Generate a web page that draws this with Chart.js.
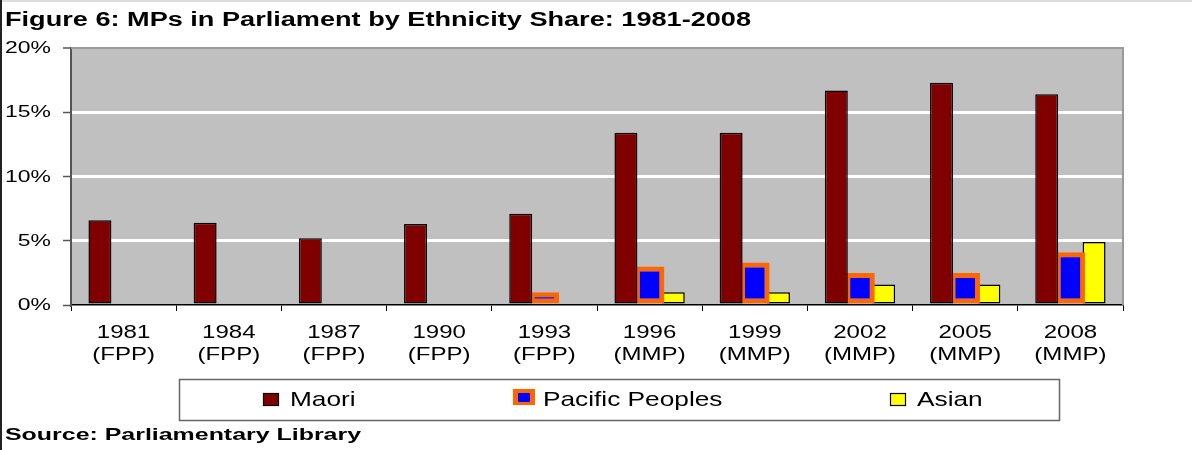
<!DOCTYPE html>
<html>
<head>
<meta charset="utf-8">
<title>MPs in Parliament by Ethnicity Share</title>
<script src="https://cdn.jsdelivr.net/npm/chart.js@4"></script>
<style>
  body { margin: 0; background: #fff; }
  .wrap { position: relative; width: 1192px; height: 450px; }
</style>
</head>
<body>
<div class="wrap"><canvas id="chart1"></canvas></div>
<script>
// data (percent of MPs)
const years = ['1981', '1984', '1987', '1990', '1993', '1996', '1999', '2002', '2005', '2008']
const systems = ['FPP', 'FPP', 'FPP', 'FPP', 'FPP', 'MMP', 'MMP', 'MMP', 'MMP', 'MMP']
const maori = [6.6, 6.4, 5.2, 6.3, 7.1, 13.4, 13.4, 16.7, 17.3, 16.4]
const pacific = [null, null, null, null, 1.0, 3.0, 3.3, 2.5, 2.5, 4.1]
const asian = [null, null, null, null, null, 1.0, 1.0, 1.6, 1.6, 4.9]
const yTicks = [0, 5, 10, 15, 20]

const titleText = 'Figure 6: MPs in Parliament by Ethnicity Share: 1981-2008'
const sourceText = 'Source: Parliamentary Library'
const FONT = '"Liberation Sans", Arial, sans-serif'

const labels = years.map((y, i) => [y, '(' + systems[i] + ')'])

const ctx1 = document.getElementById('chart1')

// the original was rendered with horizontally stretched text,
// so text is drawn with an x scale factor
function wideText(ctx, text, x, y, sx, align) {
    ctx.save()
    ctx.translate(x, y)
    ctx.scale(sx, 1)
    ctx.textAlign = align || 'left'
    ctx.fillText(text, 0, 0)
    ctx.restore()
}

const framePlugin = {
    id: 'frame',
    beforeDraw(chart) {
        const { ctx, chartArea: a } = chart
        ctx.save()
        ctx.fillStyle = '#c0c0c0'
        ctx.fillRect(a.left, a.top, a.right - a.left, a.bottom - a.top)
        ctx.restore()
    },
    beforeDatasetsDraw(chart) {
        const { ctx, chartArea: a } = chart
        ctx.save()
        ctx.strokeStyle = '#9a9a9a'
        ctx.lineWidth = 2
        ctx.beginPath()
        ctx.moveTo(a.left, a.top)
        ctx.lineTo(a.right, a.top)
        ctx.lineTo(a.right, a.bottom)
        ctx.stroke()
        ctx.restore()
    },
    afterDraw(chart) {
        const ctx = chart.ctx
        const xs = chart.scales.x
        const ys = chart.scales.y
        ctx.save()
        ctx.fillStyle = '#dddddd'
        ctx.fillRect(0, 0, 1192, 2)
        ctx.fillStyle = '#222'
        ctx.fillRect(0, 0, 2, 450)

        ctx.fillStyle = '#000'
        ctx.textBaseline = 'alphabetic'

        // title
        ctx.font = 'bold 19.5px ' + FONT
        wideText(ctx, titleText, 5, 26, 746 / ctx.measureText(titleText).width)

        // tick labels, placed by the chart's own scales
        ctx.font = '18.5px ' + FONT
        xs.ticks.forEach((t, i) => {
            const x = xs.getPixelForTick(i)
            const lab = xs.chart.data.labels[i]
            wideText(ctx, lab[0], x, 338, 1.3, 'center')
            wideText(ctx, lab[1], x, 360, 1.3, 'center')
        })
        ctx.font = '17px ' + FONT
        ctx.textBaseline = 'middle'
        ys.ticks.forEach((t) => {
            wideText(ctx, t.value + '%', 51, ys.getPixelForValue(t.value) + 0.5, 1.35, 'right')
        })
        ctx.textBaseline = 'alphabetic'

        // legend
        ctx.fillStyle = '#fff'
        ctx.fillRect(179, 379, 881, 41)
        ctx.strokeStyle = '#666'
        ctx.lineWidth = 1.5
        ctx.strokeRect(179.5, 379.5, 880, 41)
        const pos = [263, 513, 890]
        ctx.font = '21px ' + FONT
        chart.data.datasets.forEach((ds, i) => {
            const x = pos[i]
            if (ds.borderWidth > 2) {
                ctx.fillStyle = ds.borderColor
                ctx.fillRect(x, 389, 22, 16)
                ctx.fillStyle = ds.backgroundColor
                ctx.fillRect(x + 5, 393, 12, 9)
            } else {
                ctx.fillStyle = ds.backgroundColor
                ctx.fillRect(x, 393, 16, 13)
                ctx.strokeStyle = '#000'
                ctx.lineWidth = 1.2
                ctx.strokeRect(x + 0.5, 393.5, 15, 12)
            }
            ctx.fillStyle = '#000'
            wideText(ctx, ds.label, x + (ds.borderWidth > 2 ? 30 : 27), 406, 1.25)
        })

        // source
        ctx.font = 'bold 16.5px ' + FONT
        wideText(ctx, sourceText, 5, 440, 356 / ctx.measureText(sourceText).width)
        ctx.restore()
    },
}

const chart1 = new Chart(ctx1, {
    type: 'bar',
    data: {
        labels: labels,
        datasets: [
            {
                label: 'Maori',
                data: maori,
                backgroundColor: '#800000',
                borderColor: '#000',
                borderWidth: 1.5,
                borderSkipped: false,
                barPercentage: 0.97,
            },
            {
                label: 'Pacific Peoples',
                data: pacific,
                backgroundColor: '#0000ff',
                borderColor: '#ff6600',
                borderWidth: 5,
                borderSkipped: false,
                barPercentage: 1.25,
            },
            {
                label: 'Asian',
                data: asian,
                backgroundColor: '#ffff00',
                borderColor: '#000',
                borderWidth: 1.5,
                borderSkipped: false,
                barPercentage: 0.97,
            },
        ],
    },
    options: {
        responsive: true,
        maintainAspectRatio: false,
        animation: false,
        layout: {
            padding: { top: 48, right: 69, left: 0, bottom: 0 },
        },
        datasets: {
            bar: { categoryPercentage: 0.675 },
        },
        plugins: {
            legend: { display: false },
            tooltip: { enabled: false },
            title: { display: false },
        },
        scales: {
            x: {
                afterFit: (scale) => {
                    scale.height = 145
                },
                grid: {
                    offset: true,
                    drawOnChartArea: false,
                    drawTicks: true,
                    tickLength: 6,
                    tickColor: '#000',
                },
                border: { color: '#000', width: 1.5 },
                ticks: { display: false, autoSkip: false, maxRotation: 0 },
            },
            y: {
                min: 0,
                max: 20,
                afterFit: (scale) => {
                    scale.width = 71
                },
                afterBuildTicks: (scale) => {
                    scale.ticks = yTicks.map((v) => ({ value: v }))
                },
                grid: {
                    color: (c) => {
                        const v = c.tick ? c.tick.value : null
                        if (v === 0) return 'rgba(0,0,0,0)'
                        if (v === 20) return '#9a9a9a'
                        return '#ffffff'
                    },
                    lineWidth: (c) => (c.tick && c.tick.value === 20 ? 2 : 3),
                    tickLength: 8,
                    tickColor: '#555',
                    tickWidth: 1.5,
                },
                border: { color: '#555', width: 2 },
                ticks: { display: false },
            },
        },
    },
    plugins: [framePlugin],
})
</script>
</body>
</html>
